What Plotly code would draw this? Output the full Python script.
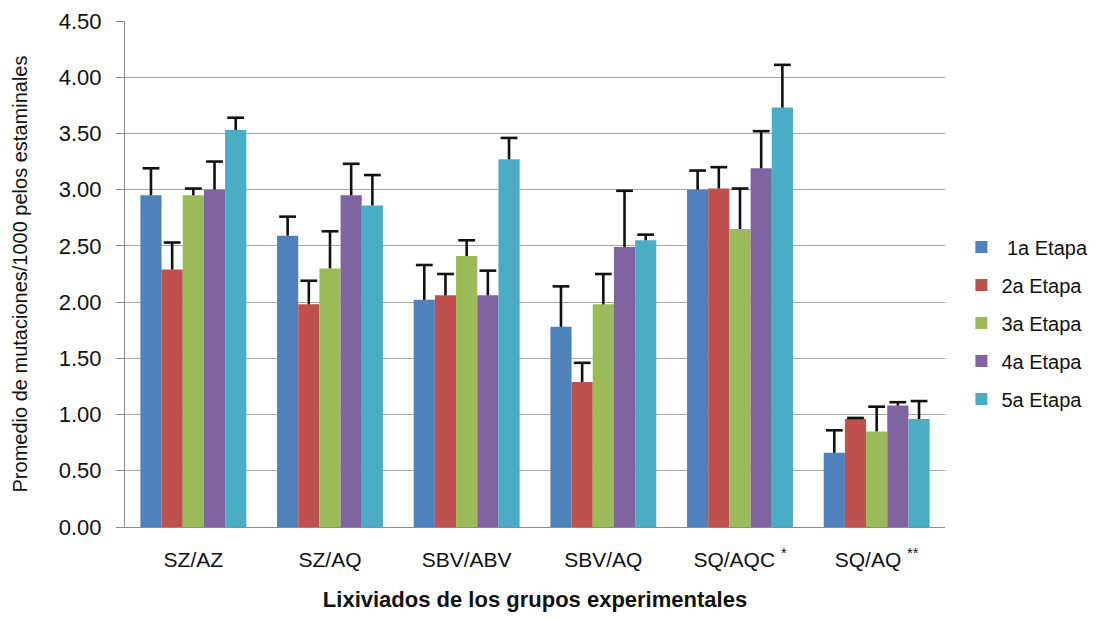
import plotly.graph_objects as go

categories = ["SZ/AZ", "SZ/AQ", "SBV/ABV", "SBV/AQ", "SQ/AQC <sup>*</sup>", "SQ/AQ <sup>**</sup>"]
series_names = [" 1a Etapa", "2a Etapa", "3a Etapa", "4a Etapa", "5a Etapa"]

etapa1 = [2.95, 2.59, 2.02, 1.78, 3.00, 0.66]
etapa2 = [2.29, 1.98, 2.06, 1.29, 3.01, 0.96]
etapa3 = [2.95, 2.30, 2.41, 1.98, 2.65, 0.85]
etapa4 = [3.00, 2.95, 2.06, 2.49, 3.19, 1.08]
etapa5 = [3.53, 2.86, 3.27, 2.55, 3.73, 0.96]

err1 = [0.24, 0.17, 0.31, 0.36, 0.17, 0.20]
err2 = [0.24, 0.21, 0.19, 0.17, 0.19, 0.01]
err3 = [0.06, 0.33, 0.14, 0.27, 0.36, 0.22]
err4 = [0.25, 0.28, 0.22, 0.50, 0.33, 0.03]
err5 = [0.11, 0.27, 0.19, 0.05, 0.38, 0.16]

colors = ["#4F81BD", "#C0504D", "#9BBB59", "#8064A2", "#4BACC6"]

values = [etapa1, etapa2, etapa3, etapa4, etapa5]
errors = [err1, err2, err3, err4, err5]

FONT = "Liberation Sans, Arial, sans-serif"
ERR_COLOR = "#111111"

fig = go.Figure()
for i in range(5):
    fig.add_trace(go.Bar(
        x=categories, y=values[i], name=series_names[i],
        marker=dict(color=colors[i], line=dict(width=0)),
        error_y=dict(type="data", array=errors[i], symmetric=False, arrayminus=[0] * 6,
                     color=ERR_COLOR, thickness=2.6, width=0),
        offsetgroup=str(i), legendgroup=f"g{i}",
    ))
# caps of the error bars (upper end only)
for i in range(5):
    tops = [v + e for v, e in zip(values[i], errors[i])]
    fig.add_trace(go.Scatter(
        x=categories, y=tops, mode="markers",
        marker=dict(symbol="line-ew", size=12, color=ERR_COLOR,
                    line=dict(width=2.6, color=ERR_COLOR)),
        offsetgroup=str(i), showlegend=False, hoverinfo="skip",
    ))

fig.update_layout(
    width=1097, height=610,
    margin=dict(l=117, r=160, t=13, b=91),
    paper_bgcolor="white", plot_bgcolor="white",
    barmode="group", bargap=0.225, bargroupgap=0,
    scattermode="group", scattergap=0.225,
    font=dict(family=FONT, color="#111111"),
    legend=dict(x=1.02, y=0.403, yanchor="middle", xanchor="left",
                font=dict(size=20, family=FONT, color="#111111"),
                tracegroupgap=9, bgcolor="rgba(0,0,0,0)"),
    showlegend=True,
)
fig.update_yaxes(
    range=[0, 4.5], dtick=0.5, tickformat=".2f", automargin=False,
    showgrid=True, gridcolor="#a9a9a9", gridwidth=1.2,
    showline=True, linecolor="#8c8c8c", linewidth=1.2,
    ticks="outside", ticklen=8, tickcolor="#8c8c8c", tickwidth=1.2,
    ticklabelstandoff=10,
    tickfont=dict(size=22, family=FONT, color="#111111"),
    zeroline=False,
    title=dict(text="Promedio de mutaciones/1000 pelos estaminales",
               font=dict(size=20, family=FONT, color="#111111"), standoff=25),
)
fig.update_xaxes(
    showline=True, linecolor="#8c8c8c", linewidth=1.2, automargin=False,
    ticks="", showgrid=False, ticklabelstandoff=14,
    tickfont=dict(size=21, family=FONT, color="#111111"),
    title=dict(text="<b>Lixiviados de los grupos experimentales</b>",
               font=dict(size=22, family=FONT, color="#111111"), standoff=21),
)

fig.write_html("out.html")
